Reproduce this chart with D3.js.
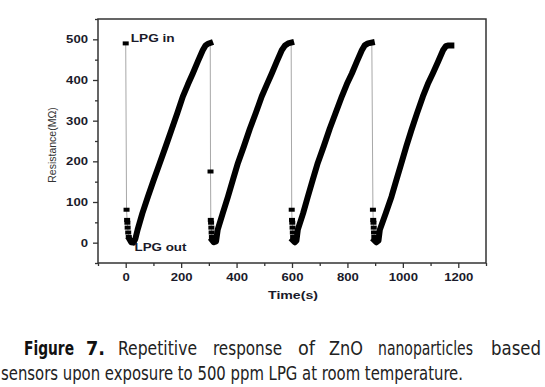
<!DOCTYPE html>
<html>
<head>
<meta charset="utf-8">
<script src="https://cdn.jsdelivr.net/npm/d3@7"></script>
<style>
  body { margin: 0; background: #fff; }
  svg { display: block; }
</style>
</head>
<body>
<script>
// tick values
const xTicks = [0, 200, 400, 600, 800, 1000, 1200];
const yTicks = [0, 100, 200, 300, 400, 500];

// recovery (rising) part of each cycle: time (s) and resistance (MOhm)
const riseTime = [
  [14, 20, 28, 35, 43, 60, 80, 100, 123, 145, 165, 186, 206, 225, 242, 260, 278, 288, 297, 305],
  [312, 318, 326, 332, 350, 369, 387, 405, 427, 448, 470, 491, 510, 527, 545, 563, 575, 586, 597],
  [603, 610, 616, 621, 640, 657, 675, 693, 715, 736, 758, 780, 798, 816, 834, 852, 862, 874, 888],
  [897, 904, 912, 917, 938, 959, 977, 995, 1013, 1031, 1051, 1072, 1090, 1108, 1127, 1145, 1155, 1165, 1175]
];
const riseRes = [
  [8, 1, 0, 10, 32, 72, 113, 152, 196, 238, 277, 318, 359, 390, 416, 445, 473, 485, 489, 491],
  [6, 1, 3, 32, 72, 113, 155, 196, 238, 280, 320, 360, 390, 416, 445, 473, 485, 490, 492],
  [6, 1, 5, 32, 72, 113, 155, 196, 238, 280, 320, 360, 390, 416, 445, 473, 485, 490, 492],
  [6, 1, 5, 32, 72, 113, 155, 196, 238, 277, 318, 359, 390, 416, 445, 473, 483, 485, 485]
];

// sparse points recorded while the resistance falls after LPG is let in
const dropTime = [
  [0, 3, 5, 6, 7, 9, 11],
  [306, 307, 308, 309, 310, 311],
  [599, 600, 601, 602, 603, 604],
  [892, 893, 894, 895, 896, 897]
];
const dropRes = [
  [490, 81, 56, 49, 37, 25, 14],
  [175, 56, 49, 37, 25, 14],
  [81, 56, 49, 37, 25, 14],
  [81, 56, 49, 37, 25, 14]
];

const captionWords1 = ["Figure", "7.", "Repetitive", "response", "of", "ZnO", "nanoparticles", "based"];
const captionLine2 = "sensors upon exposure to 500 ppm LPG at room temperature.";

const width = 545, height = 387;
const margin = {top: 19, right: 59, bottom: 124, left: 98};

const svg = d3.select("body").append("svg")
  .attr("width", width)
  .attr("height", height);

const x = d3.scaleLinear()
  .domain([-100, 1300])
  .range([margin.left, width - margin.right]);

const y = d3.scaleLinear()
  .domain([-50, 550])
  .range([height - margin.bottom, margin.top]);

// full trace: drop points then rise, cycle by cycle
const trace = [];
for (let c = 0; c < 4; c++) {
  dropTime[c].forEach((t, i) => trace.push([t, dropRes[c][i]]));
  riseTime[c].forEach((t, i) => trace.push([t, riseRes[c][i]]));
}

const line = d3.line().x(d => x(d[0])).y(d => y(d[1]));

// thin grey connecting line
svg.append("path")
  .datum(trace)
  .attr("d", line)
  .attr("fill", "none")
  .attr("stroke", "#a8a8a8")
  .attr("stroke-width", 1);

// dense square markers drawn as a thick stroke
riseTime.forEach((ts, c) => {
  svg.append("path")
    .datum(ts.map((t, i) => [t, riseRes[c][i]]))
    .attr("d", line)
    .attr("fill", "none")
    .attr("stroke", "#000")
    .attr("stroke-width", 6)
    .attr("stroke-linejoin", "round")
    .attr("stroke-linecap", "square");
});

// sparse square markers
dropTime.forEach((ts, c) => {
  svg.append("g").selectAll("rect")
    .data(ts.map((t, i) => [t, dropRes[c][i]]))
    .join("rect")
    .attr("x", d => x(d[0]) - 3)
    .attr("y", d => y(d[1]) - 2)
    .attr("width", 6)
    .attr("height", 4)
    .attr("fill", "#000");
});

// frame
svg.append("rect")
  .attr("x", margin.left)
  .attr("y", margin.top)
  .attr("width", width - margin.left - margin.right)
  .attr("height", height - margin.top - margin.bottom)
  .attr("fill", "none")
  .attr("stroke", "#333")
  .attr("stroke-width", 1.5);

const tickFont = g => g.selectAll(".tick text")
  .attr("font-family", "Liberation Sans, Arial, sans-serif")
  .attr("font-weight", "bold")
  .attr("font-size", 10.5)
  .attr("fill", "#1a1a2a")
  .attr("textLength", function() { return this.textContent.length * 7.3; })
  .attr("lengthAdjust", "spacingAndGlyphs");

// x axis: major + minor
svg.append("g")
  .attr("transform", `translate(0,${height - margin.bottom})`)
  .call(d3.axisBottom(x).tickValues(xTicks).tickFormat(d3.format("d")).tickSize(5).tickPadding(6))
  .call(g => g.select(".domain").remove())
  .call(tickFont);
svg.append("g")
  .attr("transform", `translate(0,${height - margin.bottom})`)
  .call(d3.axisBottom(x).tickValues(d3.range(-100, 1301, 200)).tickSize(3).tickFormat(""))
  .call(g => g.select(".domain").remove());

// y axis: major + minor
svg.append("g")
  .attr("transform", `translate(${margin.left},0)`)
  .call(d3.axisLeft(y).tickValues(yTicks).tickSize(5).tickPadding(5))
  .call(g => g.select(".domain").remove())
  .call(tickFont);
svg.append("g")
  .attr("transform", `translate(${margin.left},0)`)
  .call(d3.axisLeft(y).tickValues(d3.range(-50, 551, 100)).tickSize(3).tickFormat(""))
  .call(g => g.select(".domain").remove());

svg.selectAll(".tick line").attr("stroke", "#333").attr("stroke-width", 1.3);

// axis titles
svg.append("text")
  .attr("x", 293)
  .attr("y", 299)
  .attr("text-anchor", "middle")
  .attr("font-family", "Liberation Sans, Arial, sans-serif")
  .attr("font-weight", "bold")
  .attr("font-size", 11)
  .attr("fill", "#1a1a2a")
  .attr("textLength", 50)
  .attr("lengthAdjust", "spacingAndGlyphs")
  .text("Time(s)");

svg.append("text")
  .attr("transform", "translate(56,145) rotate(-90)")
  .attr("text-anchor", "middle")
  .attr("font-family", "Liberation Sans, Arial, sans-serif")
  .attr("font-size", 10.5)
  .attr("fill", "#333")
  .text("Resistance(MΩ)");

// annotations
svg.append("text")
  .attr("x", x(dropTime[0][0]) + 5)
  .attr("y", y(dropRes[0][0]) - 1)
  .attr("font-family", "Liberation Sans, Arial, sans-serif")
  .attr("font-weight", "bold")
  .attr("font-size", 11)
  .attr("fill", "#1a1a2a")
  .attr("textLength", 44)
  .attr("lengthAdjust", "spacingAndGlyphs")
  .text("LPG in");

svg.append("text")
  .attr("x", x(riseTime[0][2]) + 1)
  .attr("y", y(0) + 8)
  .attr("font-family", "Liberation Sans, Arial, sans-serif")
  .attr("font-weight", "bold")
  .attr("font-size", 11)
  .attr("fill", "#1a1a2a")
  .attr("textLength", 52)
  .attr("lengthAdjust", "spacingAndGlyphs")
  .text("LPG out");

// caption, line 1 justified word by word
const capFont = "DejaVu Sans Condensed, Liberation Sans, sans-serif";
const capX = [24, 86, 118, 213, 298, 329, 378, 491];
const capW = [50, 19, 79, 69, 17, 34, 95, 50];
svg.append("g").selectAll("text")
  .data(captionWords1)
  .join("text")
  .attr("x", (d, i) => capX[i])
  .attr("y", 355)
  .attr("font-family", capFont)
  .attr("font-size", 19)
  .attr("font-weight", (d, i) => i < 2 ? "bold" : "normal")
  .attr("fill", (d, i) => i < 2 ? "#111" : "#222")
  .attr("textLength", (d, i) => capW[i])
  .attr("lengthAdjust", "spacingAndGlyphs")
  .text(d => d);

svg.append("text")
  .attr("x", 1)
  .attr("y", 380)
  .attr("font-family", capFont)
  .attr("font-size", 19)
  .attr("fill", "#222")
  .attr("textLength", 462)
  .attr("lengthAdjust", "spacingAndGlyphs")
  .text(captionLine2);
</script>
</body>
</html>
